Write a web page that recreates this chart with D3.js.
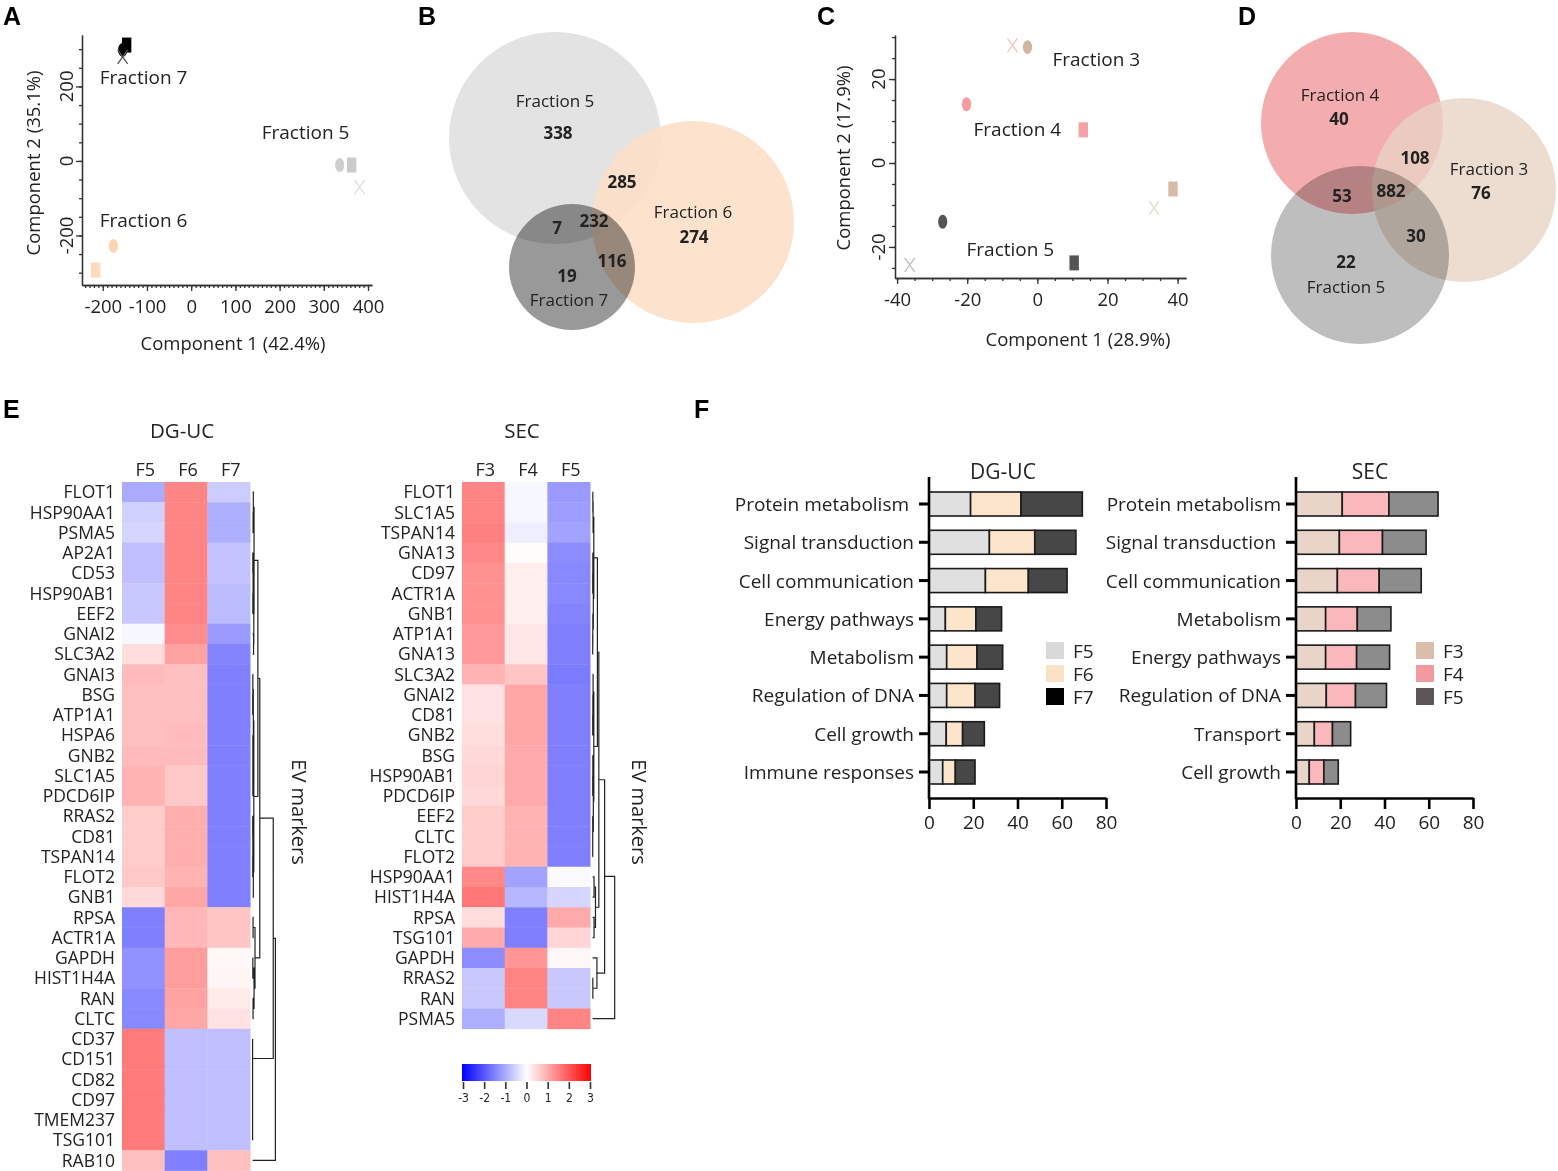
<!DOCTYPE html>
<html>
<head>
<meta charset="utf-8">
<script src="https://cdn.jsdelivr.net/npm/d3@7"></script>
<style>
  body { margin: 0; background: #fff; }
  text { font-family: "Open Sans", sans-serif; fill: #222; }
</style>
</head>
<body>
<svg id="fig" width="1558" height="1171"></svg>
<script>
// ---------------- data ----------------
// A: PCA DG-UC
const pcaAGroup = ["F5", "F5", "F5", "F6", "F6", "F7", "F7", "F7"];
const pcaAShape = ["ellipse", "square", "cross", "ellipse", "square", "ellipse", "square", "cross"];
const pcaAX = [336, 363, 381, -176, -216, -155, -146, -155];
const pcaAY = [-11, -11, -70, -228, -293, 298, 311, 279];

// C: PCA SEC
const pcaCGroup = ["F3", "F3", "F3", "F4", "F4", "F4", "F5", "F5", "F5"];
const pcaCShape = ["ellipse", "square", "cross", "ellipse", "square", "cross", "ellipse", "square", "cross"];
const pcaCX = [-2.8, 38.7, 33.3, -20.2, 13.1, -7.1, -27, 10.5, -36.4];
const pcaCY = [27.6, -6.2, -10.7, 14, 7.9, 28, -14, -23.8, -24.3];

// B / D: venn counts
const vennBLabels = ["338", "285", "274", "7", "232", "116", "19"];
const vennDLabels = ["40", "108", "76", "53", "882", "30", "22"];

// E: heatmaps
const heatLeftCols = ["F5", "F6", "F7"];
const heatLeftRows = ["FLOT1", "HSP90AA1", "PSMA5", "AP2A1", "CD53", "HSP90AB1", "EEF2", "GNAI2", "SLC3A2",
  "GNAI3", "BSG", "ATP1A1", "HSPA6", "GNB2", "SLC1A5", "PDCD6IP", "RRAS2", "CD81", "TSPAN14", "FLOT2", "GNB1",
  "RPSA", "ACTR1A", "GAPDH", "HIST1H4A", "RAN", "CLTC", "CD37", "CD151", "CD82", "CD97", "TMEM237", "TSG101", "RAB10"];
const heatLeftVals = [
  [-1.0, 1.45, -0.6], [-0.55, 1.45, -0.95], [-0.5, 1.45, -0.95], [-0.75, 1.45, -0.7], [-0.75, 1.45, -0.7],
  [-0.65, 1.45, -0.8], [-0.65, 1.45, -0.8], [-0.1, 1.35, -1.2], [0.4, 1.1, -1.45],
  [0.8, 0.75, -1.5], [0.75, 0.75, -1.5], [0.75, 0.75, -1.5], [0.75, 0.8, -1.5], [0.8, 0.8, -1.5],
  [0.9, 0.65, -1.5], [0.9, 0.65, -1.5], [0.6, 0.95, -1.5], [0.6, 0.95, -1.5], [0.6, 0.95, -1.5],
  [0.65, 0.9, -1.5], [0.45, 1.05, -1.5],
  [-1.5, 0.85, 0.7], [-1.5, 0.85, 0.7], [-1.3, 1.15, 0.1], [-1.3, 1.15, 0.12], [-1.4, 1.1, 0.25], [-1.4, 1.05, 0.35],
  [1.55, -0.75, -0.75], [1.55, -0.75, -0.75], [1.55, -0.75, -0.75], [1.55, -0.75, -0.75], [1.55, -0.75, -0.75],
  [1.55, -0.75, -0.75], [0.75, -1.5, 0.75]
];
// dendrogram: [height, left, right], leaves are row indices
const heatLeftTree = [9.5,
  [8.6,
    [3.0,
      [2.2,
        [0.6, [0.3, 0, [0.2, 1, 2]], [0.5, [0.2, [0.1, 3, 4], [0.1, 5, 6]], [0.4, 7, 8]]],
        [0.5, [0.3, [0.1, 9, [0.05, 10, 11]], [0.1, 12, [0.1, 13, [0.1, 14, 15]]]],
              [0.3, [0.1, [0.05, 16, 17], [0.05, 18, 19]], 20]]],
      [1.0, [0.2, 21, 22], [0.6, [0.1, 23, 24], [0.2, 25, 26]]]],
    [0, 27, [0, 28, [0, 29, [0, 30, [0, 31, 32]]]]]],
  33];

const heatRightCols = ["F3", "F4", "F5"];
const heatRightRows = ["FLOT1", "SLC1A5", "TSPAN14", "GNA13", "CD97", "ACTR1A", "GNB1", "ATP1A1", "GNA13",
  "SLC3A2", "GNAI2", "CD81", "GNB2", "BSG", "HSP90AB1", "PDCD6IP", "EEF2", "CLTC", "FLOT2",
  "HSP90AA1", "HIST1H4A", "RPSA", "TSG101", "GAPDH", "RRAS2", "RAN", "PSMA5"];
const heatRightVals = [
  [1.45, -0.1, -1.2], [1.45, -0.1, -1.15], [1.5, -0.2, -1.1], [1.4, 0.03, -1.35], [1.3, 0.2, -1.4],
  [1.3, 0.2, -1.4], [1.3, 0.2, -1.45], [1.2, 0.3, -1.5], [1.2, 0.3, -1.5],
  [0.9, 0.7, -1.55], [0.35, 1.05, -1.5], [0.35, 1.05, -1.5], [0.4, 1.05, -1.5], [0.45, 1.0, -1.5],
  [0.5, 1.0, -1.5], [0.45, 1.0, -1.5], [0.6, 0.9, -1.5], [0.6, 0.9, -1.5], [0.6, 0.9, -1.5],
  [1.4, -1.1, -0.05], [1.6, -0.85, -0.5], [0.4, -1.5, 1.0], [1.0, -1.5, 0.5],
  [-1.35, 1.25, 0.1], [-0.65, 1.45, -0.65], [-0.65, 1.45, -0.65], [-0.95, -0.45, 1.45]
];
const heatRightTree = [9.2,
  [5.0,
    [2.6,
      [2.0,
        [0.5, [0.2, [0.1, 0, 1], 2], [0.3, [0.1, 3, [0.05, 4, 5]], [0.1, 6, [0.05, 7, 8]]]],
        [0.5, [0.2, 9, [0.1, 10, [0.05, 11, 12]]], [0.3, [0.1, 13, [0.05, 14, 15]], [0.05, 16, [0.05, 17, 18]]]]],
      [1.2, [0.6, 19, 20], [0.6, 21, 22]]],
    [1.8, 23, [0.1, 24, 25]]],
  26];
const colorbarTicks = [-3, -2, -1, 0, 1, 2, 3];

// F: GO bars
const dgucCats = ["Protein metabolism ", "Signal transduction", "Cell communication", "Energy pathways",
  "Metabolism", "Regulation of DNA", "Cell growth", "Immune responses"];
const dgucKeys = ["F5", "F6", "F7"];
const dgucF5 = [18.8, 27.3, 25.5, 7.4, 8, 8, 7.8, 6.2];
const dgucF6 = [22.8, 20.5, 19.4, 13.8, 13.7, 12.8, 7.4, 5.7];
const dgucF7 = [27.7, 18.6, 17.5, 11.6, 11.6, 11.1, 9.8, 8.9];

const secCats = ["Protein metabolism", "Signal transduction ", "Cell communication", "Metabolism",
  "Energy pathways", "Regulation of DNA", "Transport", "Cell growth"];
const secKeys = ["F3", "F4", "F5"];
const secF3 = [20.9, 19.6, 18.7, 13.4, 13.4, 13.7, 8.3, 6];
const secF4 = [21.1, 19.5, 18.9, 14.3, 14.0, 13.2, 8.2, 6.6];
const secF5 = [22.2, 19.7, 19.0, 15.2, 14.9, 14.0, 8.2, 6.5];
const barTicks = [0, 20, 40, 60, 80];

// ---------------- drawing ----------------
const svg = d3.select("#fig");
svg.append("rect").attr("width", 1558).attr("height", 1171).attr("fill", "#fff");

// panel letters
[["A", 3, 25], ["B", 418, 25], ["C", 817, 25], ["D", 1238, 25], ["E", 3, 418], ["F", 694, 418]]
  .forEach(function (d) {
    svg.append("text").attr("x", d[1]).attr("y", d[2]).text(d[0])
      .style("font-family", "'Liberation Sans', Arial, sans-serif")
      .attr("font-weight", "bold").attr("font-size", 25).style("fill", "#000");
  });

function cleanAxis(sel) {
  sel.attr("font-family", null).attr("font-size", null);
  sel.selectAll("path,line").attr("stroke", "#333").attr("stroke-width", 1.3);
}
const plain = d => String(d);

// scatter panels (A and C)
function scatter(o) {
  const g = svg.append("g");
  const x = d3.scaleLinear().domain(o.xDom).range(o.xRange);
  const y = d3.scaleLinear().domain(o.yDom).range(o.yRange);
  const bottom = o.yRange[0], left = o.xRange[0];

  g.append("g").attr("transform", "translate(0," + bottom + ")")
    .call(d3.axisBottom(x).tickValues(o.xMinor).tickSize(3).tickSizeOuter(0).tickFormat(""))
    .call(cleanAxis);
  g.append("g").attr("transform", "translate(0," + bottom + ")")
    .call(d3.axisBottom(x).tickValues(o.xMajor).tickSize(6).tickSizeOuter(0).tickPadding(9).tickFormat(plain))
    .call(cleanAxis)
    .selectAll("text").attr("font-size", 18.5);

  g.append("g").attr("transform", "translate(" + left + ",0)")
    .call(d3.axisLeft(y).tickValues(o.yMinor).tickSize(3).tickSizeOuter(0).tickFormat(""))
    .call(cleanAxis);
  g.append("g").attr("transform", "translate(" + left + ",0)")
    .call(d3.axisLeft(y).tickValues(o.yMajor).tickSize(6).tickSizeOuter(0).tickFormat(""))
    .call(cleanAxis);
  g.selectAll(".ylab").data(o.yMajor).join("text")
    .attr("transform", d => "translate(" + (left - o.yLabOff) + "," + y(d) + ") rotate(-90)")
    .attr("text-anchor", "middle").attr("font-size", 18.5).text(plain);

  g.append("text").attr("x", o.xTitle[0]).attr("y", o.xTitle[1]).attr("text-anchor", "middle")
    .attr("font-size", 18.5).text(o.xLabel);
  g.append("text").attr("transform", "translate(" + o.yTitle[0] + "," + o.yTitle[1] + ") rotate(-90)")
    .attr("text-anchor", "middle").attr("font-size", 18.5).text(o.yLabel);

  o.xs.forEach(function (vx, i) {
    const cx = x(vx), cy = y(o.ys[i]), st = o.style[o.groups[i]];
    if (o.shapes[i] === "ellipse") {
      g.append("ellipse").attr("cx", cx).attr("cy", cy).attr("rx", 4.6).attr("ry", 7).attr("fill", st.e);
    } else if (o.shapes[i] === "square") {
      g.append("rect").attr("x", cx - 4.7).attr("y", cy - 7.5).attr("width", 9.4).attr("height", 15).attr("fill", st.s);
    } else {
      g.append("path").attr("d", "M" + (cx - 5) + "," + (cy - 7) + "L" + (cx + 5) + "," + (cy + 7) +
        "M" + (cx + 5) + "," + (cy - 7) + "L" + (cx - 5) + "," + (cy + 7))
        .attr("stroke", st.x).attr("stroke-width", 1.3).attr("fill", "none");
    }
  });
  o.labels.forEach(function (l) {
    g.append("text").attr("x", x(l[1])).attr("y", y(l[2])).attr("font-size", 19).text(l[0]);
  });
}

scatter({
  xDom: [-247, 409], xRange: [82, 372], yDom: [-333, 338], yRange: [285, 35],
  xMajor: [-200, -100, 0, 100, 200, 300, 400], xMinor: d3.range(-240, 410, 10),
  yMajor: [-200, 0, 200], yMinor: d3.range(-300, 340, 50), yLabOff: 9,
  xLabel: "Component 1 (42.4%)", yLabel: "Component 2 (35.1%)", xTitle: [233, 350], yTitle: [40, 163],
  xs: pcaAX, ys: pcaAY, shapes: pcaAShape, groups: pcaAGroup,
  style: {
    F5: { e: "#cfcfcf", s: "#cbcbcb", x: "#dedede" },
    F6: { e: "#fcd5b0", s: "#fcdabb", x: "#fde8d6" },
    F7: { e: "#000", s: "#000", x: "#555" }
  },
  labels: [["Fraction 7", -207, 207], ["Fraction 5", 159.6, 59], ["Fraction 6", -207, -177]]
});

scatter({
  xDom: [-40.6, 42.4], xRange: [895, 1186], yDom: [-27.4, 30.5], yRange: [278, 35],
  xMajor: [-40, -20, 0, 20, 40], xMinor: d3.range(-40, 45, 5),
  yMajor: [-20, 0, 20], yMinor: d3.range(-25, 35, 5), yLabOff: 10,
  xLabel: "Component 1 (28.9%)", yLabel: "Component 2 (17.9%)", xTitle: [1078, 346], yTitle: [850, 158],
  xs: pcaCX, ys: pcaCY, shapes: pcaCShape, groups: pcaCGroup,
  style: {
    F3: { e: "#d2b59e", s: "#d7bba7", x: "#e6d6ca" },
    F4: { e: "#f39c9e", s: "#f5a1a4", x: "#f6c2c3" },
    F5: { e: "#555", s: "#555", x: "#bcbcbc" }
  },
  labels: [["Fraction 3", 4.3, 23.1], ["Fraction 4", -18.2, 6.4], ["Fraction 5", -20.2, -22.1]]
});

// venn panels (B and D)
function venn(circles, names, counts, numPos, namePos) {
  const g = svg.append("g");
  circles.forEach(function (c) {
    g.append("circle").attr("cx", c[0]).attr("cy", c[1]).attr("r", c[2]).attr("fill", c[3])
      .attr("fill-opacity", c[4]).style("mix-blend-mode", c[5]);
  });
  names.forEach(function (n, i) {
    g.append("text").attr("x", namePos[i][0]).attr("y", namePos[i][1]).attr("text-anchor", "middle")
      .attr("font-size", 17).text(n);
  });
  counts.forEach(function (n, i) {
    g.append("text").attr("x", numPos[i][0]).attr("y", numPos[i][1]).attr("text-anchor", "middle")
      .attr("font-size", 17).attr("font-weight", "bold").text(n);
  });
}

venn([[555, 138, 106, "#e3e3e3", 1, "normal"], [693, 222, 101, "#fddfc6", 0.88, "normal"],
      [572, 267, 63, "#999999", 1, "multiply"]],
  ["Fraction 5", "Fraction 6", "Fraction 7"], vennBLabels,
  [[558, 139], [622, 188], [694, 243], [557, 234], [594, 227], [612, 267], [567, 282]],
  [[555, 107], [693, 218], [569, 306]]);

venn([[1352, 123, 91, "#f4adaf", 1, "normal"], [1464, 190, 92, "#e8d3c4", 0.78, "normal"],
      [1360, 255, 89, "#bebebe", 1, "multiply"]],
  ["Fraction 4", "Fraction 3", "Fraction 5"], vennDLabels,
  [[1339, 125], [1415, 164], [1481, 199], [1342, 202], [1391, 197], [1416, 242], [1346, 268]],
  [[1340, 101], [1489, 175], [1346, 293]]);

// heatmaps (E)
const heatColor = d3.scaleLinear().domain([-3, 0, 3]).range(["#0000ff", "#ffffff", "#ff0000"]);

function heatmap(o) {
  const g = svg.append("g");
  const rh = 20.25, cw = 42.7;
  const x = d3.scaleBand().domain(o.cols).range([o.x0, o.x0 + cw * o.cols.length]);
  const y = d3.scaleBand().domain(d3.range(o.rows.length)).range([482, 482 + rh * o.rows.length]);
  const cells = [];
  o.vals.forEach((r, i) => r.forEach((v, j) => cells.push({ i: i, c: o.cols[j], v: v })));
  g.selectAll("rect").data(cells).join("rect")
    .attr("x", d => x(d.c)).attr("y", d => y(d.i))
    .attr("width", x.bandwidth() + 0.4).attr("height", y.bandwidth() + 0.4)
    .attr("fill", d => heatColor(d.v));
  g.selectAll(".row").data(o.rows).join("text")
    .attr("x", o.x0 - 7).attr("y", (d, i) => y(i) + rh / 2 + 6.3)
    .attr("text-anchor", "end").attr("font-size", 17.5).text(d => d);
  g.selectAll(".col").data(o.cols).join("text")
    .attr("x", d => x(d) + x.bandwidth() / 2 + 2).attr("y", 476)
    .attr("text-anchor", "middle").attr("font-size", 18).text(d => d);
  g.append("text").attr("x", o.x0 + 60).attr("y", 438).attr("text-anchor", "middle")
    .attr("font-size", 20.5).text(o.title);

  // dendrogram
  const xr = x.range()[1];
  const hx = d3.scaleLinear().domain([0, 10]).range([xr + 2.5, xr + 26.5]);
  let d = "";
  function walk(node) {
    if (typeof node === "number") return { y: y(node) + rh / 2, x: hx(0) };
    const a = walk(node[1]), b = walk(node[2]), nx = hx(node[0]);
    d += "M" + a.x + "," + a.y + "H" + nx + "V" + b.y + "H" + b.x;
    return { y: (a.y + b.y) / 2, x: nx };
  }
  walk(o.tree);
  g.append("path").attr("d", d).attr("fill", "none").attr("stroke", "#222").attr("stroke-width", 1.2);

  g.append("text").attr("transform", "translate(" + (xr + 42) + ",812) rotate(90)")
    .attr("text-anchor", "middle").attr("font-size", 20).text("EV markers");
}

heatmap({ x0: 122, cols: heatLeftCols, rows: heatLeftRows, vals: heatLeftVals, tree: heatLeftTree, title: "DG-UC" });
heatmap({ x0: 462, cols: heatRightCols, rows: heatRightRows, vals: heatRightVals, tree: heatRightTree, title: "SEC" });

// colour bar
const defs = svg.append("defs");
const grad = defs.append("linearGradient").attr("id", "cbar");
[-3, 0, 3].forEach(v => grad.append("stop").attr("offset", ((v + 3) / 6 * 100) + "%").attr("stop-color", heatColor(v)));
const cbx = d3.scaleLinear().domain([-3, 3]).range([463, 590]);
svg.append("rect").attr("x", 462).attr("y", 1064).attr("width", 129).attr("height", 17).attr("fill", "url(#cbar)");
svg.append("g").attr("transform", "translate(0,1082)")
  .call(d3.axisBottom(cbx).tickValues(colorbarTicks).tickSize(7).tickSizeOuter(0).tickPadding(3).tickFormat(plain))
  .call(cleanAxis)
  .call(s => s.select(".domain").remove())
  .call(s => s.selectAll("line").attr("stroke-width", 1.6))
  .selectAll("text").attr("font-size", 12).attr("dy", "0.85em")
  .style("font-family", "'Liberation Sans Narrow', 'DejaVu Sans Condensed', sans-serif");

// stacked bars (F)
function bars(o) {
  const g = svg.append("g");
  const x = d3.scaleLinear().domain([0, 80]).range([o.x0, o.x0 + 177]);
  const y = d3.scalePoint().domain(o.cats).range([504, 772]);
  const rows = o.cats.map(function (c, i) {
    const r = { cat: c };
    o.keys.forEach((k, j) => r[k] = o.series[j][i]);
    return r;
  });
  const stacked = d3.stack().keys(o.keys)(rows);
  g.selectAll(".layer").data(stacked).join("g")
    .attr("fill", (d, i) => o.fills[i])
    .selectAll("rect").data(d => d).join("rect")
    .attr("x", d => x(d[0])).attr("width", d => x(d[1]) - x(d[0]))
    .attr("y", d => y(d.data.cat) - 12).attr("height", 24)
    .attr("stroke", "#1a1a1a").attr("stroke-width", 1.6);

  g.append("g").attr("transform", "translate(0,798)")
    .call(d3.axisBottom(x).tickValues(barTicks).tickSize(11).tickSizeOuter(0).tickPadding(7))
    .call(cleanAxis)
    .call(s => s.selectAll("path,line").attr("stroke", "#000").attr("stroke-width", 2.6))
    .selectAll("text").attr("font-size", 19);
  g.append("line").attr("x1", o.x0).attr("x2", o.x0).attr("y1", 477).attr("y2", 799)
    .attr("stroke", "#000").attr("stroke-width", 2.6);
  g.selectAll(".tk").data(o.cats).join("line")
    .attr("x1", o.x0 - 10).attr("x2", o.x0).attr("y1", d => y(d)).attr("y2", d => y(d))
    .attr("stroke", "#000").attr("stroke-width", 3);
  g.selectAll(".lab").data(o.cats).join("text")
    .attr("x", o.x0 - 15).attr("y", d => y(d) + 7).attr("text-anchor", "end")
    .attr("xml:space", "preserve").style("white-space", "pre")
    .attr("font-size", 19).text(d => d);
  g.append("text").attr("x", o.x0 + 74).attr("y", 479).attr("text-anchor", "middle")
    .attr("font-size", 21).text(o.title);

  o.keys.forEach(function (k, i) {
    g.append("rect").attr("x", o.legX).attr("y", 642 + i * 23).attr("width", 18).attr("height", 17)
      .attr("fill", o.legFills[i]);
    g.append("text").attr("x", o.legX + 27).attr("y", 658 + i * 23).attr("font-size", 19).text(k);
  });
}

bars({ x0: 929, cats: dgucCats, keys: dgucKeys, series: [dgucF5, dgucF6, dgucF7], title: "DG-UC",
  fills: ["#e0e0e0", "#fde5cc", "#474747"], legX: 1046, legFills: ["#d9d9d9", "#fbe1c6", "#000000"] });
bars({ x0: 1296, cats: secCats, keys: secKeys, series: [secF3, secF4, secF5], title: "SEC",
  fills: ["#e8d5c7", "#fbb8bc", "#8c8c8c"], legX: 1416, legFills: ["#d9bca9", "#f19ba1", "#5b5659"] });
</script>
</body>
</html>
